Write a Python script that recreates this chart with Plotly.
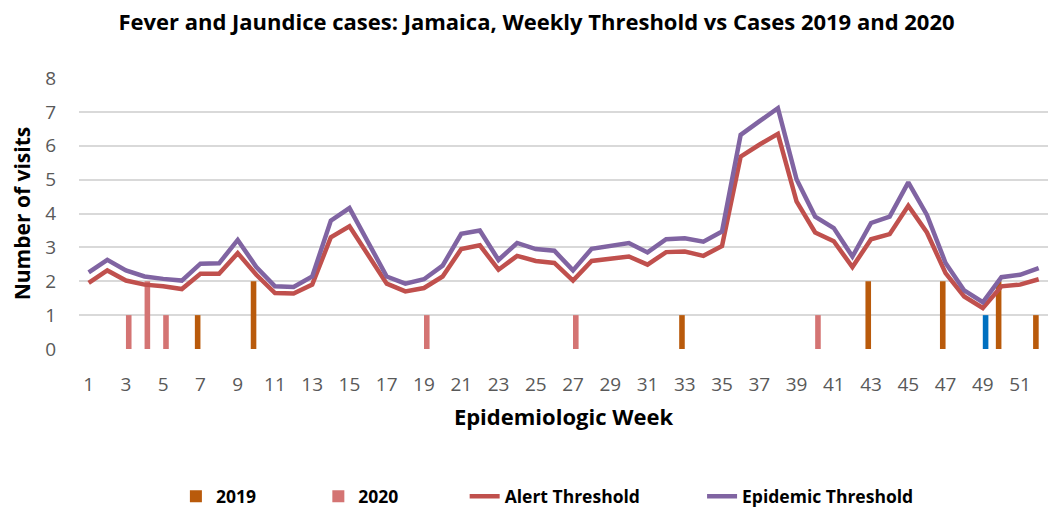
import plotly.graph_objects as go

weeks = list(range(1, 53))
tick_weeks = list(range(1, 52, 2))

alert_threshold = [
    1.95, 2.32, 2.02, 1.90, 1.85, 1.77, 2.22, 2.22, 2.83, 2.19,
    1.65, 1.64, 1.90, 3.30, 3.62, 2.78, 1.93, 1.70, 1.80, 2.14,
    2.95, 3.06, 2.34, 2.75, 2.60, 2.54, 2.02, 2.60, 2.68, 2.73,
    2.49, 2.86, 2.88, 2.75, 3.04, 5.68, 6.03, 6.35, 4.36, 3.44,
    3.18, 2.42, 3.24, 3.39, 4.23, 3.44, 2.24, 1.55, 1.21, 1.85,
    1.90, 2.06,
]
epidemic_threshold = [
    2.26, 2.63, 2.32, 2.14, 2.07, 2.02, 2.52, 2.53, 3.22, 2.42,
    1.85, 1.83, 2.14, 3.79, 4.16, 3.15, 2.14, 1.93, 2.06, 2.46,
    3.40, 3.50, 2.63, 3.13, 2.95, 2.90, 2.32, 2.96, 3.06, 3.13,
    2.85, 3.24, 3.27, 3.17, 3.47, 6.32, 6.72, 7.11, 5.01, 3.91,
    3.57, 2.73, 3.72, 3.91, 4.92, 3.96, 2.54, 1.73, 1.38, 2.12,
    2.19, 2.39,
]
cases_2019 = [
    0, 0, 0, 0, 0, 0, 1, 0, 0, 2,
    0, 0, 0, 0, 0, 0, 0, 0, 0, 0,
    0, 0, 0, 0, 0, 0, 0, 0, 0, 0,
    0, 0, 1, 0, 0, 0, 0, 0, 0, 0,
    0, 0, 2, 0, 0, 0, 2, 0, 0, 2,
    0, 1,
]
cases_2020 = [
    0, 0, 1, 2, 1, 0, 0, 0, 0, 0,
    0, 0, 0, 0, 0, 0, 0, 0, 1, 0,
    0, 0, 0, 0, 0, 0, 1, 0, 0, 0,
    0, 0, 0, 0, 0, 0, 0, 0, 0, 1,
    0, 0, 0, 0, 0, 0, 0, 0, 1, 0,
    0, 0,
]
highlight_week_2020 = 49

C2019 = "#B95A0B"
C2020 = "#D47473"
CALERT = "#C0504D"
CEPI = "#8064A2"
CBLUE = "#0070C0"

colors_2020 = [CBLUE if w == highlight_week_2020 else C2020 for w in weeks]

FONT = "Open Sans"

fig = go.Figure()
fig.add_trace(go.Bar(x=weeks, y=cases_2019, name="2019", marker=dict(color=C2019, line=dict(width=0)),
                     width=0.3, offset=-0.3, legend="legend", showlegend=True))
fig.add_trace(go.Bar(x=weeks, y=cases_2020, name="2020", marker=dict(color=colors_2020, line=dict(width=0)),
                     width=0.3, offset=0.0, legend="legend2", showlegend=True))
fig.add_trace(go.Scatter(x=weeks, y=alert_threshold, name="Alert Threshold", mode="lines",
                         line=dict(color=CALERT, width=4.5), legend="legend3", showlegend=True))
fig.add_trace(go.Scatter(x=weeks, y=epidemic_threshold, name="Epidemic Threshold", mode="lines",
                         line=dict(color=CEPI, width=4.5), legend="legend4", showlegend=True))

leg_common = dict(orientation="h", yanchor="middle", y=-0.544, xanchor="left",
                  font=dict(family=FONT, size=17.5, color="#000000", weight="bold"),
                  bgcolor="rgba(0,0,0,0)")
fig.update_layout(
    width=1053, height=509,
    margin=dict(l=79, r=5, t=78, b=160, autoexpand=False),
    plot_bgcolor="white", paper_bgcolor="white",
    showlegend=True,
    title=dict(text="<b>Fever and Jaundice cases: Jamaica, Weekly Threshold vs Cases 2019 and 2020</b>",
               x=0.5095, xref="container", xanchor="center", y=0.957, yref="container", yanchor="middle",
               font=dict(family=FONT, size=22, color="#000000")),
    barmode="overlay",
    legend=dict(x=0.100, **leg_common),
    legend2=dict(x=0.247, **leg_common),
    legend3=dict(x=0.398, **leg_common),
    legend4=dict(x=0.643, **leg_common),
    xaxis=dict(range=[0.48, 52.5], tickmode="array", tickvals=tick_weeks, ticktext=[str(w) for w in tick_weeks],
               showgrid=False, zeroline=False, showline=False, ticks="",
               ticklabelstandoff=22,
               tickfont=dict(family=FONT, size=19, color="#595959"),
               title=dict(text="<b>Epidemiologic Week</b>", standoff=13,
                          font=dict(family=FONT, size=22, color="#000000"))),
    yaxis=dict(range=[0, 8], dtick=1, showgrid=True, gridcolor="#D9D9D9", gridwidth=1.5,
               zeroline=False, showline=False, ticks="",
               ticklabelstandoff=22,
               tickfont=dict(family=FONT, size=19, color="#595959"),
               title=dict(text="<b>Number of visits</b>", standoff=8,
                          font=dict(family=FONT, size=21, color="#000000"))),
)

fig.write_html("out.html")
